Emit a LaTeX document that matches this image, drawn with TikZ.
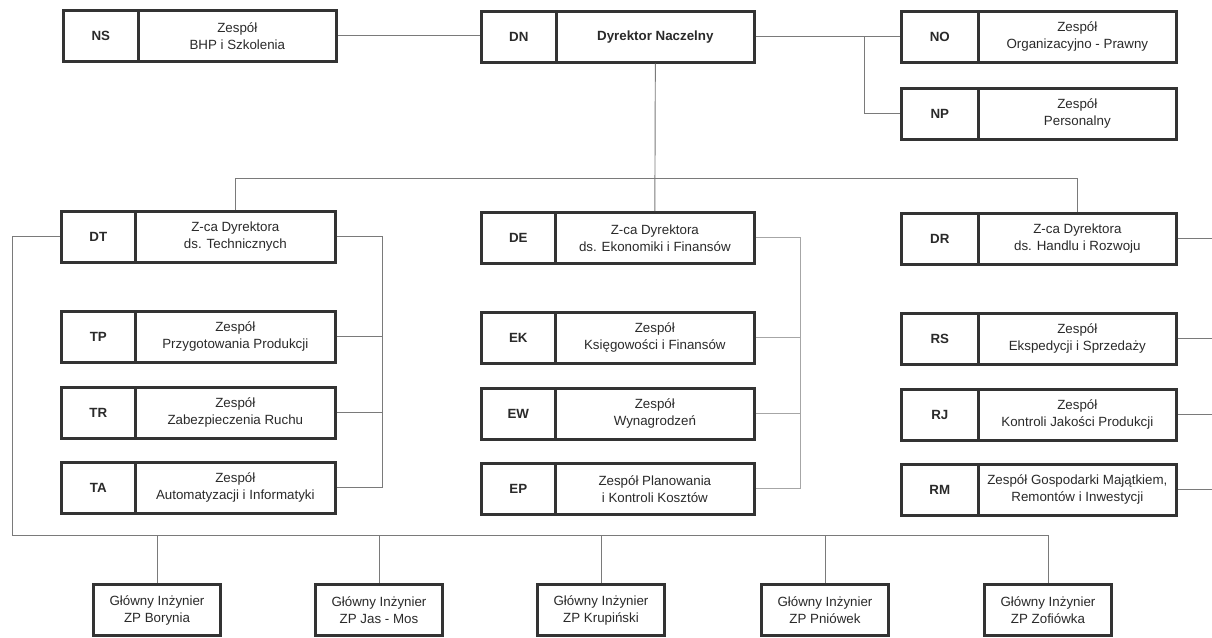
\documentclass[tikz,border=0pt]{standalone}
\usepackage{fontspec}
\setmainfont{Liberation Sans}
\newdimen\pxu \pxu=0.75pt
\definecolor{boxc}{HTML}{333333}
\definecolor{txtc}{HTML}{2A2A2A}
\definecolor{linec}{HTML}{7A7A7A}
\definecolor{linelt}{HTML}{A6A6A6}
\tikzset{
  cell/.style={draw=boxc, line width=2pt, inner sep=0pt, align=center,
    minimum height=51\pxu, anchor=north west, text=txtc,
    font=\fontsize{10}{12.75}\selectfont},
  codecell/.style={cell, font=\fontsize{10}{12.75}\selectfont\bfseries},
  gbox/.style={draw=boxc, line width=2pt, inner sep=0pt, align=center,
    minimum width=127\pxu, minimum height=51\pxu, text=txtc,
    font=\fontsize{10}{12.75}\selectfont},
  conn/.style={draw=linec, line width=0.7pt},
  connlt/.style={draw=linelt, line width=0.7pt},
}
\newcommand\obox[7]{%
  \node[codecell, minimum width={(#3-#2)*\pxu}] (#1c) at (#2,#5) {#6};
  \node[cell, minimum width={(#4-#3)*\pxu}] (#1t) at (#3,#5) {#7};
}
\begin{document}
\begin{tikzpicture}[x=0.75pt, y=-0.75pt]
\useasboundingbox[fill=white] (0,0) rectangle (1212,637);

% top row
\obox{NS}{62}{137}{335}{9}{NS}{Zespół\\BHP i Szkolenia}
\node[codecell, minimum width={(555-480)*\pxu}] (DNc) at (480,10) {DN};
\node[codecell, minimum width={(753-555)*\pxu}] (DNt) at (555,10) {Dyrektor Naczelny};
\obox{NO}{900}{977}{1175}{10}{NO}{Zespół\\Organizacyjno - Prawny}
\obox{NP}{900}{977}{1175}{87}{NP}{Zespół\\Personalny}

% left column
\obox{DT}{60}{134}{334}{210}{DT}{Z-ca Dyrektora\\ds. Technicznych}
\obox{TP}{60}{134}{334}{310}{TP}{Zespół\\Przygotowania Produkcji}
\obox{TR}{60}{134}{334}{386}{TR}{Zespół\\Zabezpieczenia Ruchu}
\obox{TA}{60}{134}{334}{461}{TA}{Zespół\\Automatyzacji i Informatyki}

% centre column
\obox{DE}{480}{554}{753}{211}{DE}{Z-ca Dyrektora\\ds. Ekonomiki i Finansów}
\obox{EK}{480}{554}{753}{311}{EK}{Zespół\\Księgowości i Finansów}
\obox{EW}{480}{554}{753}{387}{EW}{Zespół\\Wynagrodzeń}
\obox{EP}{480}{554}{753}{462}{EP}{Zespół Planowania\\i Kontroli Kosztów}

% right column
\obox{DR}{900}{977}{1175}{212}{DR}{Z-ca Dyrektora\\ds. Handlu i Rozwoju}
\obox{RS}{900}{977}{1175}{312}{RS}{Zespół\\Ekspedycji i Sprzedaży}
\obox{RJ}{900}{977}{1175}{388}{RJ}{Zespół\\Kontroli Jakości Produkcji}
\obox{RM}{900}{977}{1175}{463}{RM}{Zespół Gospodarki Majątkiem,\\Remontów i Inwestycji}

% bottom row
\node[gbox] (G1) at (157,610) {Główny Inżynier\\ZP Borynia};
\node[gbox] (G2) at (379,610) {Główny Inżynier\\ZP Jas - Mos};
\node[gbox] (G3) at (601,610) {Główny Inżynier\\ZP Krupiński};
\node[gbox] (G4) at (825,610) {Główny Inżynier\\ZP Pniówek};
\node[gbox] (G5) at (1048,610) {Główny Inżynier\\ZP Zofiówka};

% helper coordinates
\coordinate (b1) at (0,178);
\coordinate (brN) at (864,0);
\coordinate (brT) at (382,0);
\coordinate (brE) at (800,0);
\coordinate (edge) at (1212,0);
\coordinate (L) at (12,535);

% connectors top
\draw[conn] (NSt.east) -- (NSt.east -| DNc.west);
\draw[conn] (DNt.east) -- (DNt.east -| NOc.west);
\draw[conn] (DNt.east -| brN) -- (NPc.west -| brN) -- (NPc.west);
\draw[conn] (DNt.south) -- (DEt.north);
\draw[conn] (DTt.north) -- (DTt.north |- b1) -- (DRt.north |- b1) -- (DRt.north);

% left bracket
\draw[conn] (DTt.east) -- (DTt.east -| brT) -- (TAt.east -| brT) -- (TAt.east);
\draw[conn] (TPt.east) -- (TPt.east -| brT);
\draw[conn] (TRt.east) -- (TRt.east -| brT);

% centre bracket
\draw[connlt] (DEt.east) -- (DEt.east -| brE) -- (EPt.east -| brE) -- (EPt.east);
\draw[connlt] (EKt.east) -- (EKt.east -| brE);
\draw[connlt] (EWt.east) -- (EWt.east -| brE);

% right stubs
\draw[conn] (DRt.east) -- (DRt.east -| edge);
\draw[conn] (RSt.east) -- (RSt.east -| edge);
\draw[conn] (RJt.east) -- (RJt.east -| edge);
\draw[conn] (RMt.east) -- (RMt.east -| edge);

% bottom bus
\draw[conn] (DTc.west) -- (DTc.west -| L) -- (L) -- (L -| G5.north) -- (G5.north);
\draw[conn] (G1.north) -- (G1.north |- L);
\draw[conn] (G2.north) -- (G2.north |- L);
\draw[conn] (G3.north) -- (G3.north |- L);
\draw[conn] (G4.north) -- (G4.north |- L);
\end{tikzpicture}
\end{document}
